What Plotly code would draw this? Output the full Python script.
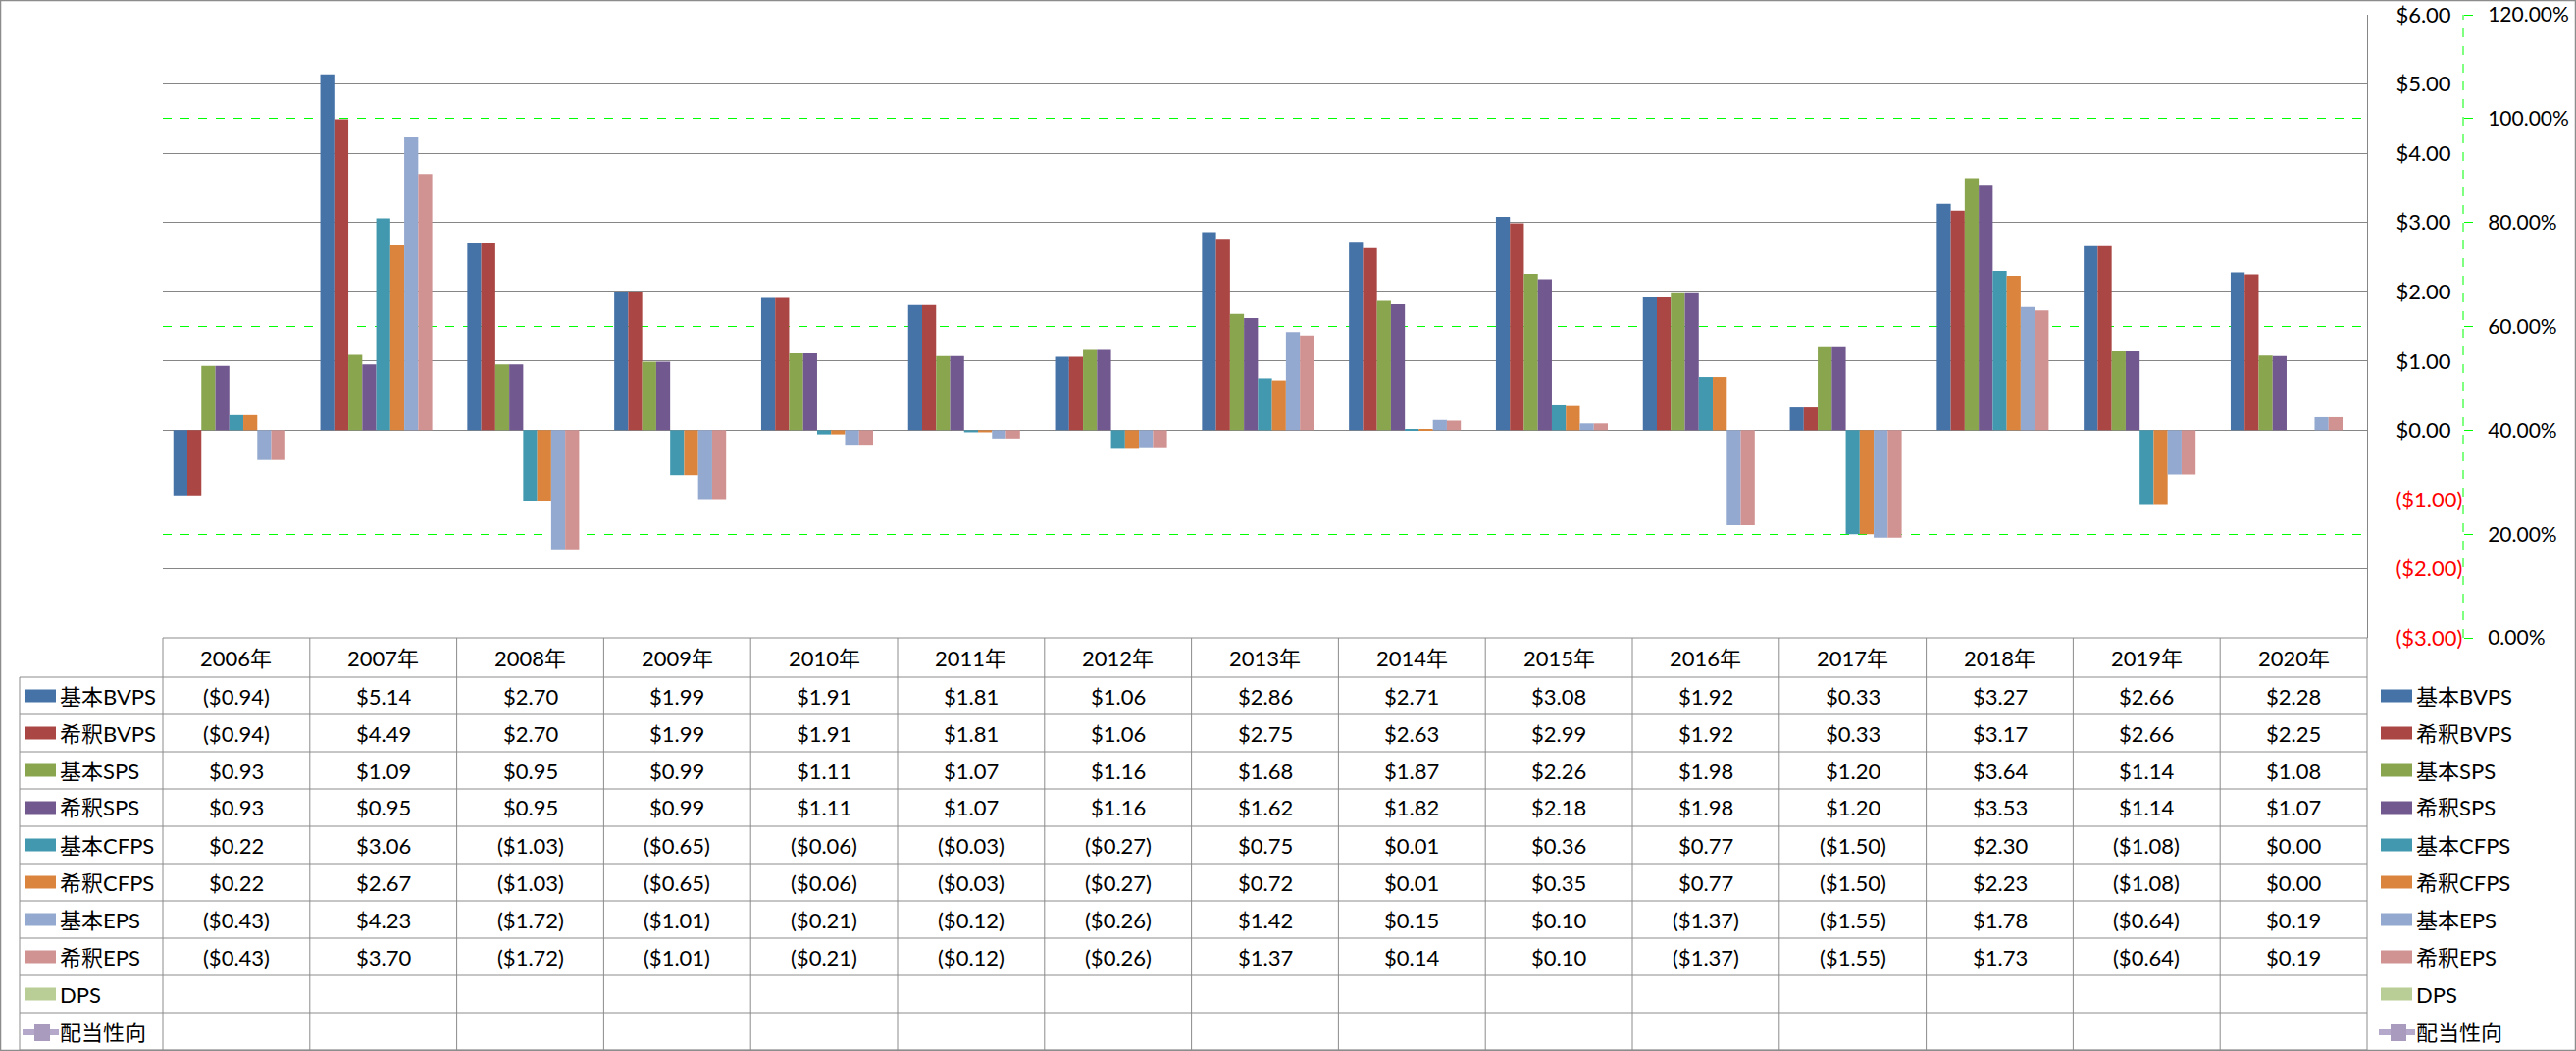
import plotly.graph_objects as go

# ---------------- data ----------------
years = ["2006年", "2007年", "2008年", "2009年", "2010年", "2011年", "2012年", "2013年",
         "2014年", "2015年", "2016年", "2017年", "2018年", "2019年", "2020年"]

basic_bvps = [-0.94, 5.14, 2.70, 1.99, 1.91, 1.81, 1.06, 2.86, 2.71, 3.08, 1.92, 0.33, 3.27, 2.66, 2.28]
dil_bvps = [-0.94, 4.49, 2.70, 1.99, 1.91, 1.81, 1.06, 2.75, 2.63, 2.99, 1.92, 0.33, 3.17, 2.66, 2.25]
basic_sps = [0.93, 1.09, 0.95, 0.99, 1.11, 1.07, 1.16, 1.68, 1.87, 2.26, 1.98, 1.20, 3.64, 1.14, 1.08]
dil_sps = [0.93, 0.95, 0.95, 0.99, 1.11, 1.07, 1.16, 1.62, 1.82, 2.18, 1.98, 1.20, 3.53, 1.14, 1.07]
basic_cfps = [0.22, 3.06, -1.03, -0.65, -0.06, -0.03, -0.27, 0.75, 0.01, 0.36, 0.77, -1.50, 2.30, -1.08, 0.00]
dil_cfps = [0.22, 2.67, -1.03, -0.65, -0.06, -0.03, -0.27, 0.72, 0.01, 0.35, 0.77, -1.50, 2.23, -1.08, 0.00]
basic_eps = [-0.43, 4.23, -1.72, -1.01, -0.21, -0.12, -0.26, 1.42, 0.15, 0.10, -1.37, -1.55, 1.78, -0.64, 0.19]
dil_eps = [-0.43, 3.70, -1.72, -1.01, -0.21, -0.12, -0.26, 1.37, 0.14, 0.10, -1.37, -1.55, 1.73, -0.64, 0.19]
dps = [None] * 15
payout = [None] * 15

bar_names = ["基本BVPS", "希釈BVPS", "基本SPS", "希釈SPS", "基本CFPS", "希釈CFPS", "基本EPS", "希釈EPS", "DPS"]
bar_values = [basic_bvps, dil_bvps, basic_sps, dil_sps, basic_cfps, dil_cfps, basic_eps, dil_eps, dps]
bar_colors = ["#4572A7", "#AA4643", "#89A54E", "#71588F", "#4198AF", "#DB843D", "#93A9CF", "#D19392", "#B9CD96"]
line_name = "配当性向"
line_color = "#A99BBD"

usd_ticks = [-3, -2, -1, 0, 1, 2, 3, 4, 5, 6]
pct_ticks = [0, 0.2, 0.4, 0.6, 0.8, 1.0, 1.2]

FONT = "Lato, 'Noto Sans CJK JP', sans-serif"
FS = 22
GRID = "#868686"
TABLE = "#8C8C8C"
GREEN = "#00FF00"

# ---------------- geometry (pixels) ----------------
W, H = 2626, 1071
L, R, T, B = 166, 115, 15, 421
PW, PH = W - L - R, H - T - B
PLOT_RIGHT = 2413
XDOM = (PLOT_RIGHT - L) / PW


def px(xp):
    return (xp - L) / PW


def py(yp):
    return (T + PH - yp) / PH


def fmt(v):
    if v is None:
        return ""
    return f"${v:,.2f}" if v >= 0 else f"(${-v:,.2f})"


def fmt_axis(v):
    if v >= 0:
        return f"${v:,.2f}"
    return f'<span style="color:#FF0000">(${-v:,.2f})</span>'


fig = go.Figure()

for name, vals, col in zip(bar_names, bar_values, bar_colors):
    fig.add_trace(go.Bar(x=years, y=vals, name=name, marker=dict(color=col, line=dict(width=0)),
                         yaxis="y2", showlegend=False))

fig.add_trace(go.Scatter(x=years, y=payout, name=line_name, mode="lines+markers",
                         line=dict(color=line_color, width=5),
                         marker=dict(symbol="square", size=14, color=line_color),
                         yaxis="y", showlegend=False))

# ---------------- table ----------------
shapes = []
annotations = []

n = len(years)
colw = (PLOT_RIGHT - L) / n
header_top, header_bot = 650, 690
row_h = 38
row_labels = bar_names + [line_name]
nrows = len(row_labels)
table_bottom = header_bot + row_h * nrows  # 1070
LEFT_COL = 20


def hline(y, x0, x1, color=TABLE, width=1):
    shapes.append(dict(type="line", xref="paper", yref="paper", x0=px(x0), x1=px(x1),
                       y0=py(y), y1=py(y), line=dict(color=color, width=width), layer="above"))


def vline(x, y0, y1, color=TABLE, width=1):
    shapes.append(dict(type="line", xref="paper", yref="paper", x0=px(x), x1=px(x),
                       y0=py(y0), y1=py(y1), line=dict(color=color, width=width), layer="above"))


hline(header_top, L, PLOT_RIGHT)
for r in range(nrows + 1):
    hline(header_bot + r * row_h, LEFT_COL, PLOT_RIGHT)
vline(LEFT_COL, header_bot, table_bottom)
for c in range(n + 1):
    vline(L + c * colw, header_top, table_bottom)

# outer border
shapes.append(dict(type="rect", xref="paper", yref="paper", x0=px(0.5), x1=px(W - 0.5),
                   y0=py(0.5), y1=py(H - 0.5), line=dict(color=TABLE, width=1.5), layer="above"))

# green dashed secondary axis line
shapes.append(dict(type="line", xref="paper", yref="paper", x0=1, x1=1, y0=0, y1=1,
                   line=dict(color=GREEN, width=1, dash="dash"), layer="above"))

txtfont = dict(family=FONT, size=FS, color="black")

for i, yr in enumerate(years):
    annotations.append(dict(x=px(L + (i + 0.5) * colw), y=py((header_top + header_bot) / 2),
                            xref="paper", yref="paper", text=yr, showarrow=False,
                            xanchor="center", yanchor="middle", font=txtfont))

for r, vals in enumerate(bar_values + [payout]):
    yc = header_bot + r * row_h + row_h / 2
    for i, v in enumerate(vals):
        t = fmt(v)
        if t:
            annotations.append(dict(x=px(L + (i + 0.5) * colw), y=py(yc), xref="paper", yref="paper",
                                    text=t, showarrow=False, xanchor="center", yanchor="middle",
                                    font=txtfont))


# legend keys (left in table and right side)
def legend_key(x_sw, x_txt, r, label, color, is_line=False):
    yc = header_bot + r * row_h + row_h / 2
    if is_line:
        shapes.append(dict(type="line", xref="paper", yref="paper", x0=px(x_sw - 2), x1=px(x_sw + 35),
                           y0=py(yc + 1), y1=py(yc + 1), line=dict(color="#B4A8CB", width=6), layer="above"))
        shapes.append(dict(type="rect", xref="paper", yref="paper", x0=px(x_sw + 10), x1=px(x_sw + 26),
                           y0=py(yc - 8), y1=py(yc + 10), fillcolor=color, line=dict(width=0), layer="above"))
    else:
        shapes.append(dict(type="rect", xref="paper", yref="paper", x0=px(x_sw), x1=px(x_sw + 32),
                           y0=py(yc - 6.5), y1=py(yc + 6.5), fillcolor=color, line=dict(width=0),
                           layer="above"))
    annotations.append(dict(x=px(x_txt), y=py(yc), xref="paper", yref="paper", text=label,
                            showarrow=False, xanchor="left", yanchor="middle", font=txtfont))


for r, (nm, col) in enumerate(zip(bar_names, bar_colors)):
    legend_key(25, 59, r, nm, col)
    legend_key(2427, 2461, r, nm, col)
legend_key(25, 59, nrows - 1, line_name, line_color, True)
legend_key(2427, 2461, nrows - 1, line_name, line_color, True)

fig.update_layout(
    width=W, height=H, autosize=False,
    margin=dict(l=L, r=R, t=T, b=B, pad=0, autoexpand=False),
    paper_bgcolor="white", plot_bgcolor="white",
    font=dict(family=FONT, size=FS, color="black"),
    barmode="group", bargap=0.1435, bargroupgap=0,
    showlegend=False,
    xaxis=dict(domain=[0, XDOM], range=[-0.5, n - 0.5], showticklabels=False, showgrid=False,
               zeroline=False, showline=False, ticks="", automargin=False),
    yaxis=dict(range=[0, 1.2002], tickvals=pct_ticks, tickformat=".2%", showgrid=True,
               gridcolor=GREEN, griddash="dash", gridwidth=1, zeroline=False, showline=False,
               ticks="outside", ticklen=9, tickwidth=1, tickcolor=GREEN, automargin=False,
               anchor="free", position=1, side="right", ticklabelstandoff=11,
               tickfont=dict(family=FONT, size=21, color="black")),
    yaxis2=dict(range=[-3, 6.001], tickvals=usd_ticks, ticktext=[fmt_axis(v) for v in usd_ticks],
                overlaying="y", anchor="x", side="right", showgrid=True, gridcolor=GRID, gridwidth=1,
                zeroline=False, showline=True, linecolor=GRID, linewidth=1, ticks="", automargin=False,
                ticklabelstandoff=24, tickfont=dict(family=FONT, size=FS, color="black")),
    shapes=shapes,
    annotations=annotations,
)

fig.write_html("out.html")
